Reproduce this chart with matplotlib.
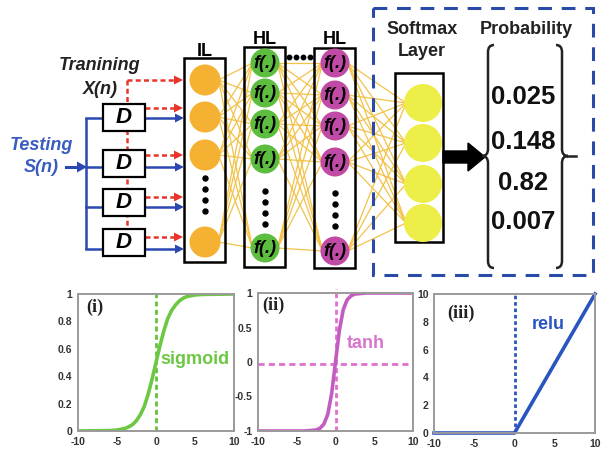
import matplotlib
matplotlib.use('Agg')
import matplotlib.pyplot as plt
from matplotlib.patches import Circle, Rectangle, Polygon, FancyArrow, PathPatch
from matplotlib.path import Path

# ---------------- data ----------------
probabilities = ["0.025", "0.148", "0.82", "0.007"]
layer_labels = ["IL", "HL", "HL"]
neuron_text = "f(.)"
delay_label = "D"
train_label = ["Tranining", "X(n)"]
test_label = ["Testing", "S(n)"]
softmax_label = ["Softmax", "Layer"]
prob_title = "Probability"

sig_x = [-10, -6, -5, -4, -3.5, -3, -2.5, -2, -1.5, -1, -0.5, 0, 0.5, 1, 1.5, 2, 2.5, 3, 3.5, 4, 5, 6, 10]
sig_y = [0.0, 0.003, 0.007, 0.018, 0.03, 0.047, 0.076, 0.12, 0.18, 0.27, 0.38, 0.5, 0.62, 0.73, 0.82,
         0.88, 0.92, 0.95, 0.97, 0.982, 0.993, 0.997, 1.0]
tanh_x = [-10, -4, -3, -2.5, -2, -1.5, -1, -0.5, 0, 0.5, 1, 1.5, 2, 2.5, 3, 4, 10]
tanh_y = [-1.0, -1.0, -0.99, -0.985, -0.96, -0.9, -0.76, -0.46, 0.0, 0.46, 0.76, 0.9, 0.96, 0.985, 0.99, 1.0, 1.0]
relu_x = [-10, 0, 10]
relu_y = [0, 0, 10]
x_ticks = [-10, -5, 0, 5, 10]
sig_yticks = [0, 0.2, 0.4, 0.6, 0.8, 1]
sig_yticklabels = ["0", "0.2", "0.4", "0.6", "0.8", "1"]
tanh_yticks = [-1, -0.5, 0, 0.5, 1]
tanh_yticklabels = ["-1", "-0.5", "0", "0.5", "1"]
relu_yticks = [0, 2, 4, 6, 8, 10]
relu_yticklabels = ["0", "2", "4", "6", "8", "10"]
panel_tags = ["(i)", "(ii)", "(iii)"]
func_names = ["sigmoid", "tanh", "relu"]

plt.rcParams['font.family'] = ['Liberation Sans', 'DejaVu Sans']

# ---------------- figure ----------------
W, H = 601, 458
fig = plt.figure(figsize=(6.01, 4.58), dpi=100)
ax = fig.add_axes([0, 0, 1, 1])
ax.set_xlim(0, W)
ax.set_ylim(H, 0)
ax.axis('off')

SANS = 'Liberation Sans'
RED = '#e8352c'
BLUE = '#2a48b0'
GOLD = '#f2c24a'
GREEN = '#5cbd3f'
PURPLE = '#c04aa6'
ORANGE = '#f5b232'
YELLOW = '#eeee48'


def head(xtip, y, color, L=9, hw=4.5, z=6):
    ax.add_patch(Polygon([(xtip, y), (xtip - L, y - hw), (xtip - L, y + hw)],
                         closed=True, color=color, zorder=z, lw=0))


# ---- input section ----
d_centers = [117, 163, 202, 242]
blue_in = [118, 167, 207, 249]
red_out = [108, 155, 197, 237]
ax.plot([127, 127], [80, 232], color=RED, lw=1.8, dashes=(2, 1.3), zorder=2)
ax.plot([127, 174], [80, 80], color=RED, lw=1.8, dashes=(2, 1.3), zorder=2)
head(183, 80, RED)
for y in red_out:
    ax.plot([145, 174], [y, y], color=RED, lw=1.8, dashes=(2, 1.3), zorder=2)
    head(183, y, RED)
ax.plot([86, 86], [blue_in[0], blue_in[-1]], color=BLUE, lw=1.8, zorder=2, solid_capstyle='butt')
for y in blue_in:
    ax.plot([86, 105], [y, y], color=BLUE, lw=1.8, zorder=2)
    ax.plot([143, 175], [y, y], color=BLUE, lw=1.8, zorder=2)
    head(184, y, BLUE)
ax.plot([66, 78], [167, 167], color=BLUE, lw=2.2, zorder=2)
head(87, 167, BLUE, L=10, hw=5.5)
for yc in d_centers:
    ax.add_patch(Rectangle((103, yc - 13.5), 42, 27, fc='white', ec='black', lw=1.6, zorder=4))
    ax.text(124, yc + 0.5, delay_label, ha='center', va='center', fontsize=16,
            fontweight='bold', fontstyle='italic', family=SANS, zorder=5)

ax.text(100, 65, train_label[0], ha='center', va='center', fontsize=13, fontweight='bold',
        fontstyle='italic', family=SANS, color='#222222')
ax.text(100, 89, train_label[1], ha='center', va='center', fontsize=13, fontweight='bold',
        fontstyle='italic', family=SANS, color='#222222')
ax.text(41, 146, test_label[0], ha='center', va='center', fontsize=13, fontweight='bold',
        fontstyle='italic', family=SANS, color='#3a5cc0')
ax.text(41, 168, test_label[1], ha='center', va='center', fontsize=13, fontweight='bold',
        fontstyle='italic', family=SANS, color='#3a5cc0')

# ---- layers ----
il_x, il_y, il_r = 205, [80, 117, 155, 242], 15.5
g_x, g_y, g_r = 265, [63, 93, 124, 159, 248], 14.5
p_x, p_y, p_r = 335, [63, 95, 126, 162, 251], 14.5
s_x, s_y, s_r = 423, [103, 143, 184, 223], 19

for y1 in il_y:
    for y2 in g_y:
        ax.plot([il_x + il_r - 2, g_x - g_r + 2], [y1, y2], color=GOLD, lw=0.9, zorder=1)
for y1 in g_y:
    for y2 in p_y:
        ax.plot([g_x + g_r - 2, p_x - p_r + 2], [y1, y2], color=GOLD, lw=0.9, zorder=1)
for y1 in p_y:
    for y2 in s_y:
        ax.plot([p_x + p_r - 2, s_x - s_r + 2], [y1, y2], color=GOLD, lw=0.9, zorder=1)

ax.add_patch(Rectangle((184, 58), 41, 204, fc='none', ec='black', lw=1.8, zorder=2))
ax.add_patch(Rectangle((244, 47), 41, 220, fc='none', ec='black', lw=1.8, zorder=2))
ax.add_patch(Rectangle((314, 48), 41, 220, fc='none', ec='black', lw=1.8, zorder=2))
ax.add_patch(Rectangle((395, 73), 48, 169, fc='none', ec='black', lw=1.8, zorder=2))

for y in il_y:
    ax.add_patch(Circle((il_x, y), il_r, fc=ORANGE, ec='none', zorder=3))
for y in g_y:
    ax.add_patch(Circle((g_x, y), g_r, fc=GREEN, ec='none', zorder=3))
    ax.text(g_x, y + 0.5, neuron_text, ha='center', va='center', fontsize=13, fontweight='bold',
            fontstyle='italic', family=SANS, zorder=4)
for y in p_y:
    ax.add_patch(Circle((p_x, y), p_r, fc=PURPLE, ec='none', zorder=3))
    ax.text(p_x, y + 0.5, neuron_text, ha='center', va='center', fontsize=13, fontweight='bold',
            fontstyle='italic', family=SANS, zorder=4)
for y in s_y:
    ax.add_patch(Circle((s_x, y), s_r, fc=YELLOW, ec='none', zorder=3))

ax.plot([il_x] * 4, [178, 189, 200, 211], 'o', color='black', ms=3.6, zorder=4)
ax.plot([g_x] * 4, [191, 202, 213, 224], 'o', color='black', ms=3.6, zorder=4)
ax.plot([p_x] * 4, [193, 204, 215, 226], 'o', color='black', ms=3.6, zorder=4)
ax.plot([289, 296, 303, 310], [57, 57, 57, 57], 'o', color='black', ms=3.2, zorder=4)

ax.text(il_x, 51, layer_labels[0], ha='center', va='center', fontsize=13, fontweight='bold', family=SANS)
ax.text(g_x, 39, layer_labels[1], ha='center', va='center', fontsize=13, fontweight='bold', family=SANS)
ax.text(p_x, 39, layer_labels[2], ha='center', va='center', fontsize=13, fontweight='bold', family=SANS)

# ---- softmax section ----
ax.add_patch(Rectangle((373, 8), 220, 267, fc='none', ec='#2a4aa8', lw=2.2,
                       linestyle=(0, (4.5, 3.2)), zorder=2))
ax.text(422, 30, softmax_label[0], ha='center', va='center', fontsize=13, fontweight='bold',
        family=SANS, color='#222222')
ax.text(422, 52, softmax_label[1], ha='center', va='center', fontsize=13, fontweight='bold',
        family=SANS, color='#222222')
ax.text(526, 29, prob_title, ha='center', va='center', fontsize=13, fontweight='bold',
        family=SANS, color='#222222')

ax.add_patch(FancyArrow(443, 157, 42, 0, width=12, head_width=28, head_length=17,
                        length_includes_head=True, color='black', zorder=4))


def brace(x_end, x_spine, x_tip, top, bot, mid, r=7):
    verts = [(x_end, top), (x_spine, top), (x_spine, top + r),
             (x_spine, mid - r), (x_spine, mid), (x_tip, mid),
             (x_spine, mid), (x_spine, mid + r),
             (x_spine, bot - r), (x_spine, bot), (x_end, bot)]
    codes = [Path.MOVETO, Path.CURVE3, Path.CURVE3,
             Path.LINETO, Path.CURVE3, Path.CURVE3,
             Path.CURVE3, Path.CURVE3,
             Path.LINETO, Path.CURVE3, Path.CURVE3]
    ax.add_patch(PathPatch(Path(verts, codes), fc='none', ec='#222222', lw=1.8, zorder=4))


brace(494, 488, 482, 45, 268, 156)
brace(556, 562, 568, 45, 268, 156)
ax.plot([567, 576], [156, 156], color='#222222', lw=1.8, zorder=4)

for y, p in zip([97, 142, 183, 222], probabilities):
    ax.text(523, y, p, ha='center', va='center', fontsize=18.5, fontweight='bold', family=SANS,
            color='#111111')

# ---------------- bottom plots ----------------
def add_axes_px(left, right, top, bottom):
    return fig.add_axes([left / W, (H - bottom) / H, (right - left) / W, (bottom - top) / H])


axes = [add_axes_px(78, 234, 294, 431), add_axes_px(258, 413, 293, 431), add_axes_px(434, 595, 294, 433)]
ylims = [(0, 1), (-1, 1), (0, 10)]
yticks = [sig_yticks, tanh_yticks, relu_yticks]
yticklabels = [sig_yticklabels, tanh_yticklabels, relu_yticklabels]

for a, yl, yt, ytl in zip(axes, ylims, yticks, yticklabels):
    a.set_xlim(-10, 10)
    a.set_ylim(*yl)
    a.set_xticks(x_ticks)
    a.set_xticklabels([str(t) for t in x_ticks], fontweight='bold')
    a.set_yticks(yt)
    a.set_yticklabels(ytl, fontweight='bold')
    a.tick_params(length=0, labelsize=7.5, pad=4, colors='#333333')
    for s in a.spines.values():
        s.set_color('#9a9a9a')
        s.set_linewidth(1.4)

# sigmoid
a = axes[0]
a.axvline(0, ymin=0, ymax=1.03, color='#62c43a', lw=2, dashes=(1.8, 1.2), clip_on=False)
a.plot(sig_x, sig_y, color='#6cc843', lw=2.6)
a.text(0.5, 0.52, func_names[0], ha='left', va='center', fontsize=13, fontweight='bold',
       family=SANS, color='#6cc843')
a.text(0.05, 0.905, panel_tags[0], transform=a.transAxes, ha='left', va='center', fontsize=13,
       fontweight='bold', family='Liberation Serif', color='#222222')

# tanh
a = axes[1]
a.axvline(0, ymin=0, ymax=1.03, color='#e070cc', lw=2, dashes=(1.8, 1.2), clip_on=False)
a.axhline(-0.03, color='#e070cc', lw=2, dashes=(2.2, 1.5))
a.plot(tanh_x, tanh_y, color='#c25cc2', lw=2.6)
a.text(1.4, 0.27, func_names[1], ha='left', va='center', fontsize=13, fontweight='bold',
       family=SANS, color='#d874cc')
a.text(0.03, 0.91, panel_tags[1], transform=a.transAxes, ha='left', va='center', fontsize=13,
       fontweight='bold', family='Liberation Serif', color='#222222')

# relu
a = axes[2]
a.axvline(0, color='#2a55c0', lw=2, dashes=(1.3, 1.0))
a.plot(relu_x, relu_y, color='#2a55c0', lw=2.6, clip_on=False)
a.text(2.1, 7.8, func_names[2], ha='left', va='center', fontsize=13, fontweight='bold',
       family=SANS, color='#2a55c0')
a.text(0.08, 0.86, panel_tags[2], transform=a.transAxes, ha='left', va='center', fontsize=13,
       fontweight='bold', family='Liberation Serif', color='#222222')

fig.savefig('out.png', dpi=100)
